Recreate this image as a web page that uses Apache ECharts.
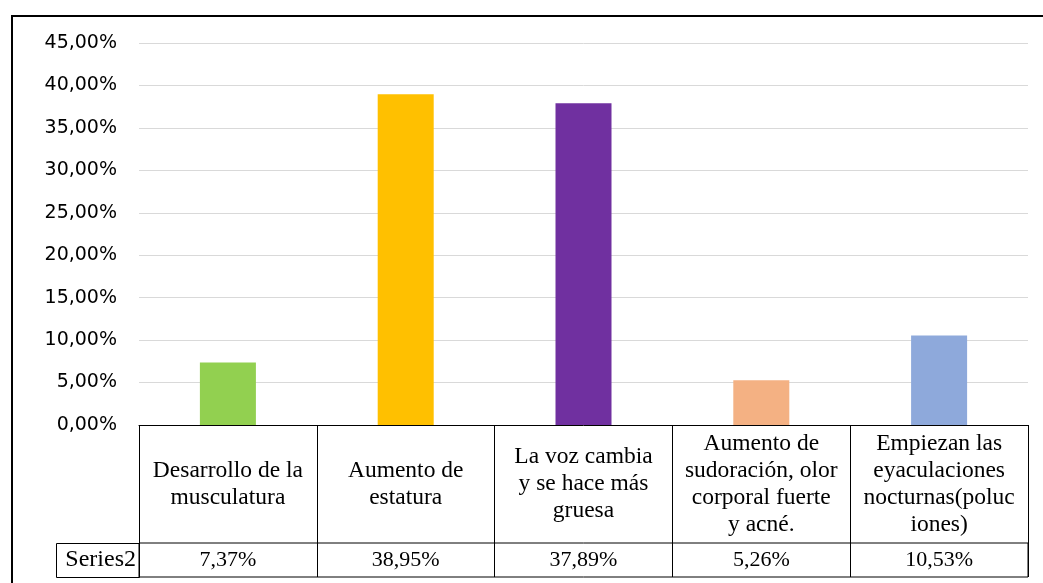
<!DOCTYPE html>
<html>
<head>
<meta charset="utf-8">
<script src="https://cdn.jsdelivr.net/npm/echarts@6/dist/echarts.min.js"></script>
<style>
  html, body { margin: 0; padding: 0; background: #fff; }
  #chart { width: 1043px; height: 583px; }
</style>
</head>
<body>
<div id="chart"></div>
<script>
// categories as wrapped in the data table
const categories = [
  'Desarrollo de la\nmusculatura',
  'Aumento de\nestatura',
  'La voz cambia\ny se hace más\ngruesa',
  'Aumento de\nsudoración, olor\ncorporal fuerte\ny acné.',
  'Empiezan las\neyaculaciones\nnocturnas(poluc\niones)'
];
const values = [7.37, 38.95, 37.89, 5.26, 10.53];
const barColors = ['#92D050', '#FFC000', '#7030A0', '#F4B183', '#8EA9DB'];
const seriesName = 'Series2';
const yTicks = { min: 0, max: 45, interval: 5 };

const pct = v => v.toFixed(2).replace('.', ',') + '%';
const serif = 'Liberation Serif';

const chart = echarts.init(document.getElementById('chart'));

chart.setOption({
  animation: false,
  grid: [
    { left: 139, top: 43, width: 889, height: 382 },
    { left: 139, top: 543, width: 889, height: 34, show: true, borderColor: '#000', borderWidth: 1 }
  ],
  xAxis: [
    {
      type: 'category',
      gridIndex: 0,
      data: categories,
      axisLine: { lineStyle: { color: '#000', width: 1 } },
      axisTick: { show: true, length: 152, lineStyle: { color: '#000', width: 1 } },
      axisLabel: {
        interval: 0,
        margin: 59,
        verticalAlign: 'middle',
        fontFamily: serif,
        fontSize: 23.5,
        lineHeight: 27,
        color: '#000'
      }
    },
    {
      type: 'category',
      gridIndex: 1,
      position: 'top',
      data: values.map(pct),
      axisLine: { show: false },
      axisTick: { show: false },
      axisLabel: {
        inside: true,
        margin: 17,
        verticalAlign: 'middle',
        fontFamily: serif,
        fontSize: 22,
        color: '#000'
      }
    }
  ],
  yAxis: [
    {
      type: 'value',
      gridIndex: 0,
      min: yTicks.min,
      max: yTicks.max,
      interval: yTicks.interval,
      axisLine: { show: false },
      axisTick: { show: false },
      splitLine: { lineStyle: { color: '#d9d9d9', width: 1 } },
      axisLabel: {
        margin: 22,
        formatter: pct,
        fontFamily: 'DejaVu Sans',
        fontSize: 19,
        color: '#000'
      }
    },
    {
      type: 'category',
      gridIndex: 1,
      data: [seriesName],
      axisLine: { show: false },
      axisTick: { show: false },
      axisLabel: { margin: 3, fontFamily: serif, fontSize: 24, color: '#000' }
    }
  ],
  series: [
    {
      name: seriesName,
      type: 'bar',
      xAxisIndex: 0,
      yAxisIndex: 0,
      barWidth: '31.5%',
      data: values.map((v, i) => ({ value: v, itemStyle: { color: barColors[i] } }))
    }
  ],
  graphic: [
    // outer chart frame (right/bottom edges fall outside the picture)
    { type: 'rect', silent: true, shape: { x: 12, y: 16, width: 1100, height: 700 },
      style: { fill: null, stroke: '#000', lineWidth: 2 } },
    // row header cell of the data table
    { type: 'rect', silent: true, shape: { x: 56.5, y: 543.5, width: 83, height: 34 },
      style: { fill: null, stroke: '#000', lineWidth: 1 } }
  ]
});
</script>
</body>
</html>
